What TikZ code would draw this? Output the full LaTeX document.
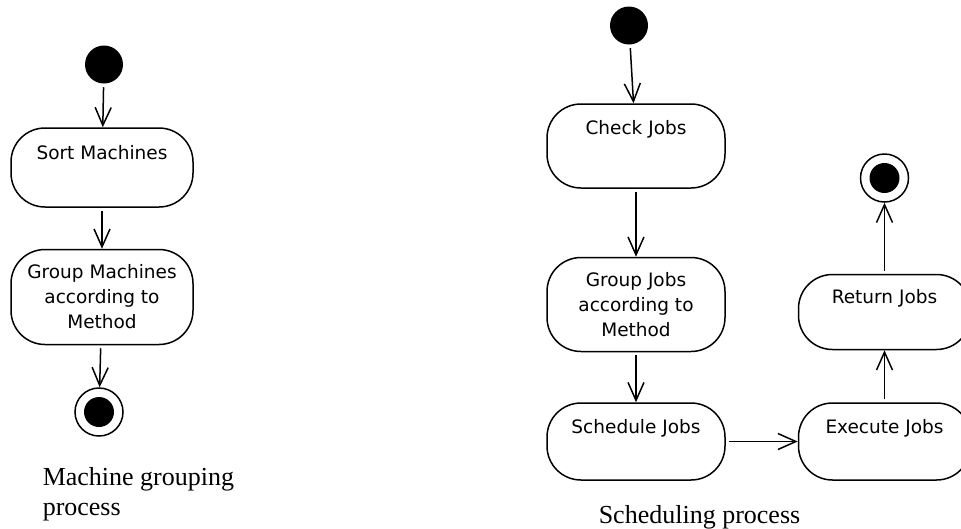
\documentclass[tikz,border=0pt]{standalone}
\usepackage{fontspec}
\setmainfont{Liberation Serif}
\newfontfamily\boxfont{DejaVu Sans}
\usetikzlibrary{positioning, arrows.meta}
\tikzset{>={Straight Barb[length=18pt, width=16pt]}, % open arrow heads
node distance=40pt, % gap between two nodes. Changed per node below.
act/.style={draw, rounded corners=34pt, minimum width=180pt, inner sep=0pt, align=center,
  font=\boxfont\fontsize{18.5}{25}\selectfont}, % activity box
toptext/.style 2 args={text height=#1, text depth=#2}, % keeps a single line near the top of the box
init/.style={circle, fill, minimum size=38pt, inner sep=0pt}, % start dot
final/.style={circle, draw, minimum size=48pt, inner sep=0pt,
  path picture={\fill (path picture bounding box.center) circle (15pt);}}, % end dot
caption/.style={inner sep=0pt, align=left, font=\fontsize{26}{30}\selectfont},
}

\begin{document}
\begin{tikzpicture}[line width=1.5pt]
  \useasboundingbox (0,0) rectangle (961pt,-528pt);
  \clip (0,0) rectangle (961pt,-528pt);

  % machine grouping
  \node[act, minimum width=182pt, toptext={31pt}{48pt}] (sort) at (102pt,-167.5pt) {Sort Machines};
  \node[init, above=43pt of sort, xshift=2pt] (start1) {};
  \node[act, minimum width=182pt, minimum height=95pt, below=41pt of sort] (groupm) {Group Machines\\according to\\Method};
  \node[final, below=42pt of groupm, xshift=-3pt] (end1) {};
  \node[caption, anchor=north west] (cap1) at (42pt,-467pt) {Machine grouping\\process};

  % scheduling
  \node[act, minimum width=178pt, toptext={30pt}{54pt}] (check) at (636pt,-146pt) {Check Jobs};
  \node[init, above=58pt of check, xshift=-7pt] (start2) {};
  \node[act, minimum width=178pt, minimum height=94pt, below=68pt of check] (groupj) {Group Jobs\\according to\\Method};
  \node[act, minimum width=178pt, toptext={30pt}{47pt}, below=50pt of groupj] (sched) {Schedule Jobs};
  \node[act, minimum width=172pt, toptext={30pt}{47pt}, right=72pt of sched] (exec) {Execute Jobs};
  \node[act, minimum width=172pt, toptext={29pt}{46pt}, above=52pt of exec] (ret) {Return Jobs};
  \node[final, above=71pt of ret] (end2) {};
  \node[caption, anchor=base west] (cap2) at (598pt,-523pt) {Scheduling process};

  \draw[->, shorten <=3pt] (start1) edge (sort)
        (sort) edge (groupm)
        (groupm) edge (end1)
        (start2) edge (check)
        (check) edge (groupj)
        (groupj) edge (sched)
        (sched) edge (exec)
        (exec) edge (ret)
        (ret) edge (end2);

\end{tikzpicture}
\end{document}
